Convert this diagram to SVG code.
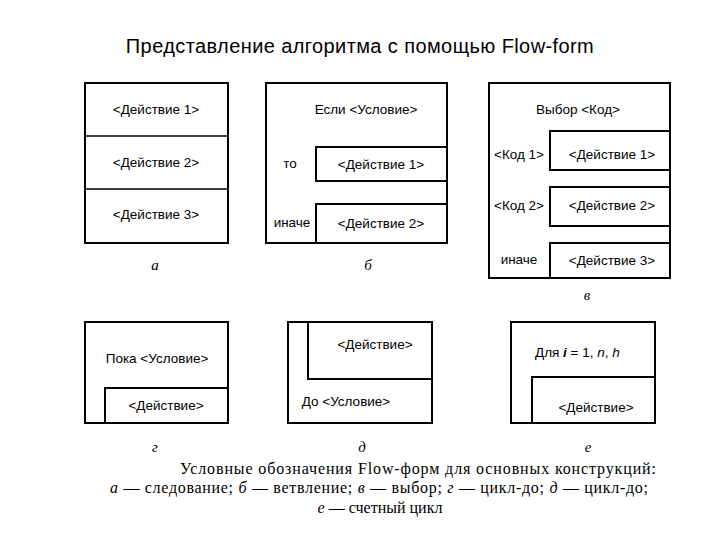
<svg xmlns="http://www.w3.org/2000/svg" width="720" height="540" viewBox="0 0 720 540">
<style>
rect{fill:none;stroke:#000;stroke-width:2}
line{stroke:#000;stroke-width:1.5}
text{font-family:"Liberation Sans",Arial,sans-serif;font-size:13.5px;fill:#000}
.c{text-anchor:middle}
.l{font-family:"Liberation Serif",serif;font-style:italic;font-size:15px}
.cap{font-family:"Liberation Serif",serif;font-size:16px}
</style>
<rect width="720" height="540" fill="#fff" stroke="none" style="fill:#fff;stroke:none"/>
<text x="360" y="53" class="c" style="font-size:20px;letter-spacing:0.4px">Представление алгоритма с помощью Flow-form</text>
<g id="a">
<rect x="85" y="83" width="143" height="160"/>
<line x1="85" y1="136" x2="228" y2="136"/><line x1="85" y1="189" x2="228" y2="189"/>
<text x="156" y="114" class="c">&lt;Действие 1&gt;</text>
<text x="156" y="167" class="c">&lt;Действие 2&gt;</text>
<text x="156" y="219" class="c">&lt;Действие 3&gt;</text>
<text x="155" y="270" class="l c">а</text>
</g>
<g id="b">
<rect x="266" y="83" width="181" height="160"/>
<rect x="316" y="147" width="131" height="34"/>
<rect x="316" y="204" width="131" height="39"/>
<text x="366" y="114" class="c">Если &lt;Условие&gt;</text>
<text x="290" y="168" class="c">то</text>
<text x="292" y="227" class="c">иначе</text>
<text x="381" y="169" class="c">&lt;Действие 1&gt;</text>
<text x="381" y="228" class="c">&lt;Действие 2&gt;</text>
<text x="368" y="270" class="l c">б</text>
</g>
<g id="v">
<rect x="489" y="83" width="181" height="195"/>
<rect x="550" y="131" width="120" height="39"/>
<rect x="550" y="187" width="120" height="39"/>
<rect x="550" y="243" width="120" height="35"/>
<text x="578" y="114" class="c">Выбор &lt;Код&gt;</text>
<text x="519" y="159" class="c">&lt;Код 1&gt;</text>
<text x="519" y="210" class="c">&lt;Код 2&gt;</text>
<text x="519" y="264" class="c">иначе</text>
<text x="612" y="159" class="c">&lt;Действие 1&gt;</text>
<text x="612" y="210" class="c">&lt;Действие 2&gt;</text>
<text x="612" y="265" class="c">&lt;Действие 3&gt;</text>
<text x="587" y="300" class="l c">в</text>
</g>
<g id="g">
<rect x="85" y="322" width="143" height="101"/>
<rect x="105" y="388" width="123" height="35"/>
<text x="157" y="363" class="c">Пока &lt;Условие&gt;</text>
<text x="166" y="410" class="c">&lt;Действие&gt;</text>
<text x="155" y="452" class="l c">г</text>
</g>
<g id="d">
<rect x="288" y="322" width="144" height="101"/>
<rect x="308" y="322" width="124" height="57"/>
<text x="375" y="349" class="c">&lt;Действие&gt;</text>
<text x="346" y="406" class="c">До &lt;Условие&gt;</text>
<text x="362" y="452" class="l c">д</text>
</g>
<g id="e">
<rect x="511" y="322" width="144" height="101"/>
<rect x="532" y="377" width="123" height="46"/>
<text x="535" y="357">Для <tspan font-style="italic" font-weight="bold">i</tspan> = 1, <tspan font-style="italic">n</tspan>, <tspan font-style="italic">h</tspan></text>
<text x="596" y="412" class="c">&lt;Действие&gt;</text>
<text x="588" y="452" class="l c">е</text>
</g>
<g id="connectors"></g>
<text x="180" y="474" class="cap" textLength="476">Условные обозначения Flow-форм для основных конструкций:</text>
<text x="110" y="493" class="cap" textLength="538"><tspan font-style="italic">а</tspan> — следование; <tspan font-style="italic">б</tspan> — ветвление; <tspan font-style="italic">в</tspan> — выбор; <tspan font-style="italic">г</tspan> — цикл-до; <tspan font-style="italic">д</tspan> — цикл-до;</text>
<text x="380" y="513" class="cap c"><tspan font-style="italic">е</tspan> — счетный цикл</text>
</svg>
